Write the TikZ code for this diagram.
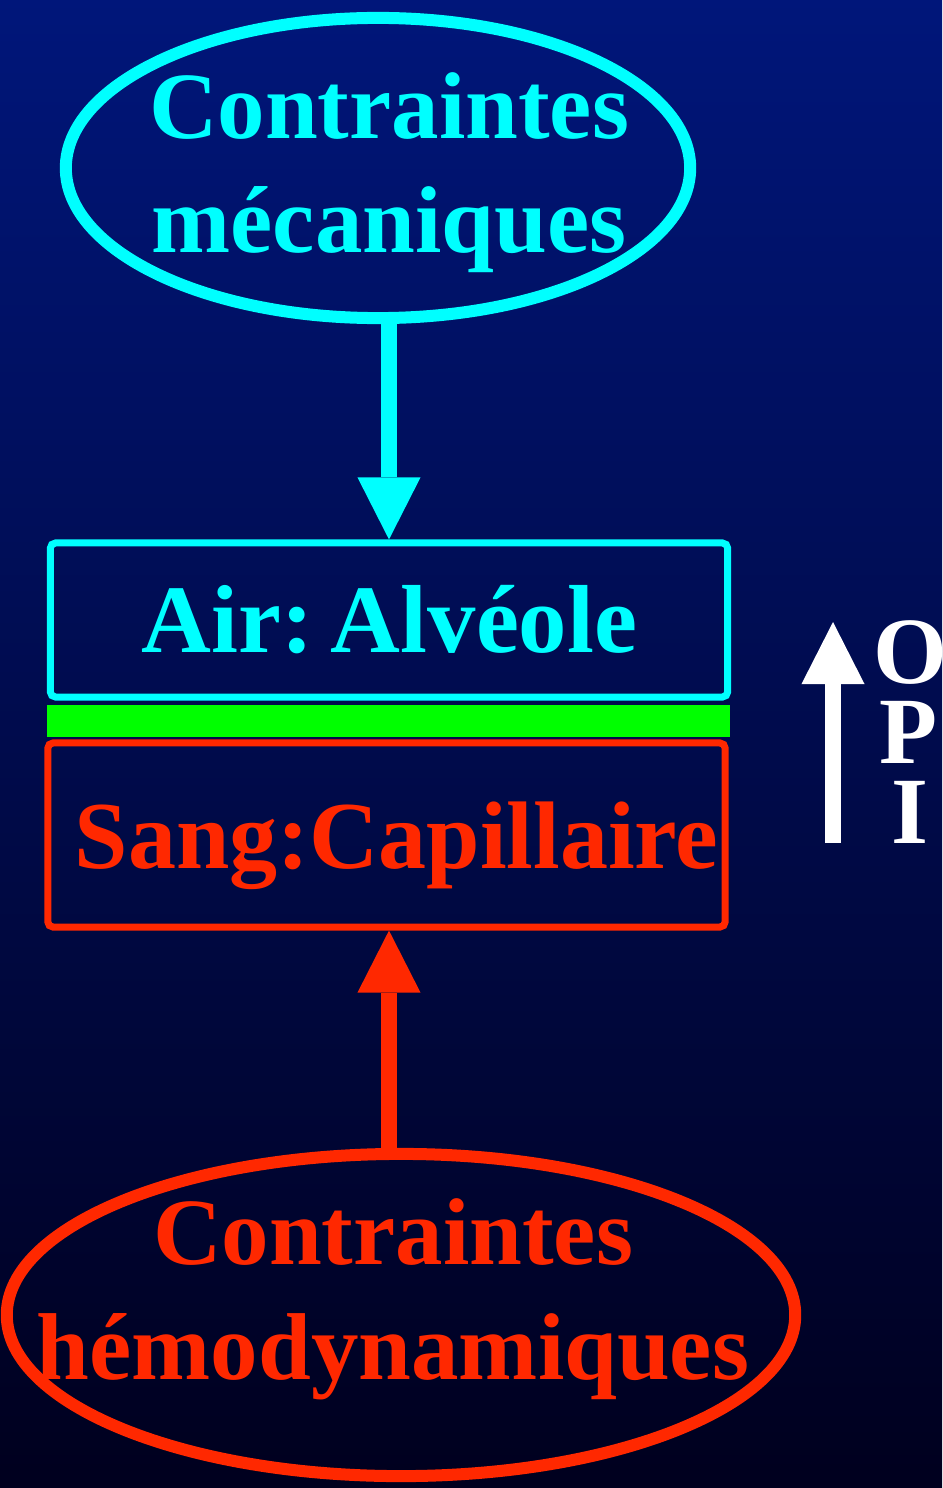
\documentclass[tikz,border=0pt]{standalone}
\usepackage{fontspec}
\setmainfont{Liberation Serif}
\usetikzlibrary{arrows.meta,shapes.geometric}

\definecolor{fondhaut}{RGB}{0,22,122}
\definecolor{fondbas}{RGB}{0,0,30}
\definecolor{mecacyan}{RGB}{0,255,255}
\definecolor{hemorouge}{RGB}{255,40,0}
\definecolor{membrane}{RGB}{0,255,0}

\tikzset{
  titre/.style={font=\bfseries\fontsize{27}{32}\selectfont, anchor=base, inner sep=0pt},
  lettre/.style={titre, text=white, text height=0.64cm, text depth=0pt},
  bulle/.style={ellipse, draw, line width=0.12cm, inner sep=0pt},
  boite/.style={rectangle, draw, line width=0.07cm, rounded corners=1.5pt, inner sep=0pt},
  fleche/.style={line width=0.16cm, -{Triangle[width=0.63cm,length=0.62cm,line width=0pt]}},
}

\begin{document}
\begin{tikzpicture}[x=0.01cm, y=-0.01cm]
  % fond degrade
  \useasboundingbox (0,0) rectangle (942,1488);
  \clip (0,0) rectangle (942,1488);
  \shade[top color=fondhaut, bottom color=fondbas] (0,0) rectangle (942,1488);

  % contraintes mecaniques (haut)
  \node[bulle, draw=mecacyan, minimum width=6.24cm, minimum height=3.0cm] (meca) at (378,168) {};
  \node[titre, text=mecacyan] (meca1) at (389,139) {Contraintes};
  \node[titre, text=mecacyan] (meca2) at (389,252) {mécaniques};

  % alveole / membrane / capillaire
  \node[boite, draw=mecacyan, minimum width=6.77cm, minimum height=1.54cm] (air) at (389,620) {};
  \node[titre, text=mecacyan, font=\bfseries\fontsize{27.5}{32}\selectfont] (airtxt) at (389.5,652) {Air:\hspace{0.18em}Alvéole};
  \node[rectangle, fill=membrane, inner sep=0pt, minimum width=6.83cm, minimum height=0.32cm] (mb) at (388.5,721) {};
  \node[boite, draw=hemorouge, minimum width=6.77cm, minimum height=1.84cm] (sang) at (386.5,835) {};
  \node[titre, text=hemorouge, font=\bfseries\fontsize{27.3}{32}\selectfont] (sangtxt) at (396.5,868) {Sang:Capillaire};

  % contraintes hemodynamiques (bas)
  \node[bulle, draw=hemorouge, minimum width=7.88cm, minimum height=3.22cm] (hemo) at (401,1315) {};
  \node[titre, text=hemorouge] (hemo1) at (393,1264) {Contraintes};
  \node[titre, text=hemorouge] (hemo2) at (393,1379) {hémodynamiques};

  % fleches
  \draw[fleche, mecacyan] (air.north |- meca.south) -- (air.north);
  \draw[fleche, hemorouge] (air.north |- hemo.north) -- (air.north |- sang.south);

  % OPI
  \coordinate (opibas) at (833,843);
  \coordinate (opihaut) at (833,622);
  \draw[fleche, white] (opibas) -- (opihaut);
  \node[lettre] (lettreO) at (910,683) {O};
  \node[lettre] (lettreP) at (908,763) {P};
  \node[lettre] (lettreI) at (909.5,843) {I};
\end{tikzpicture}
\end{document}
